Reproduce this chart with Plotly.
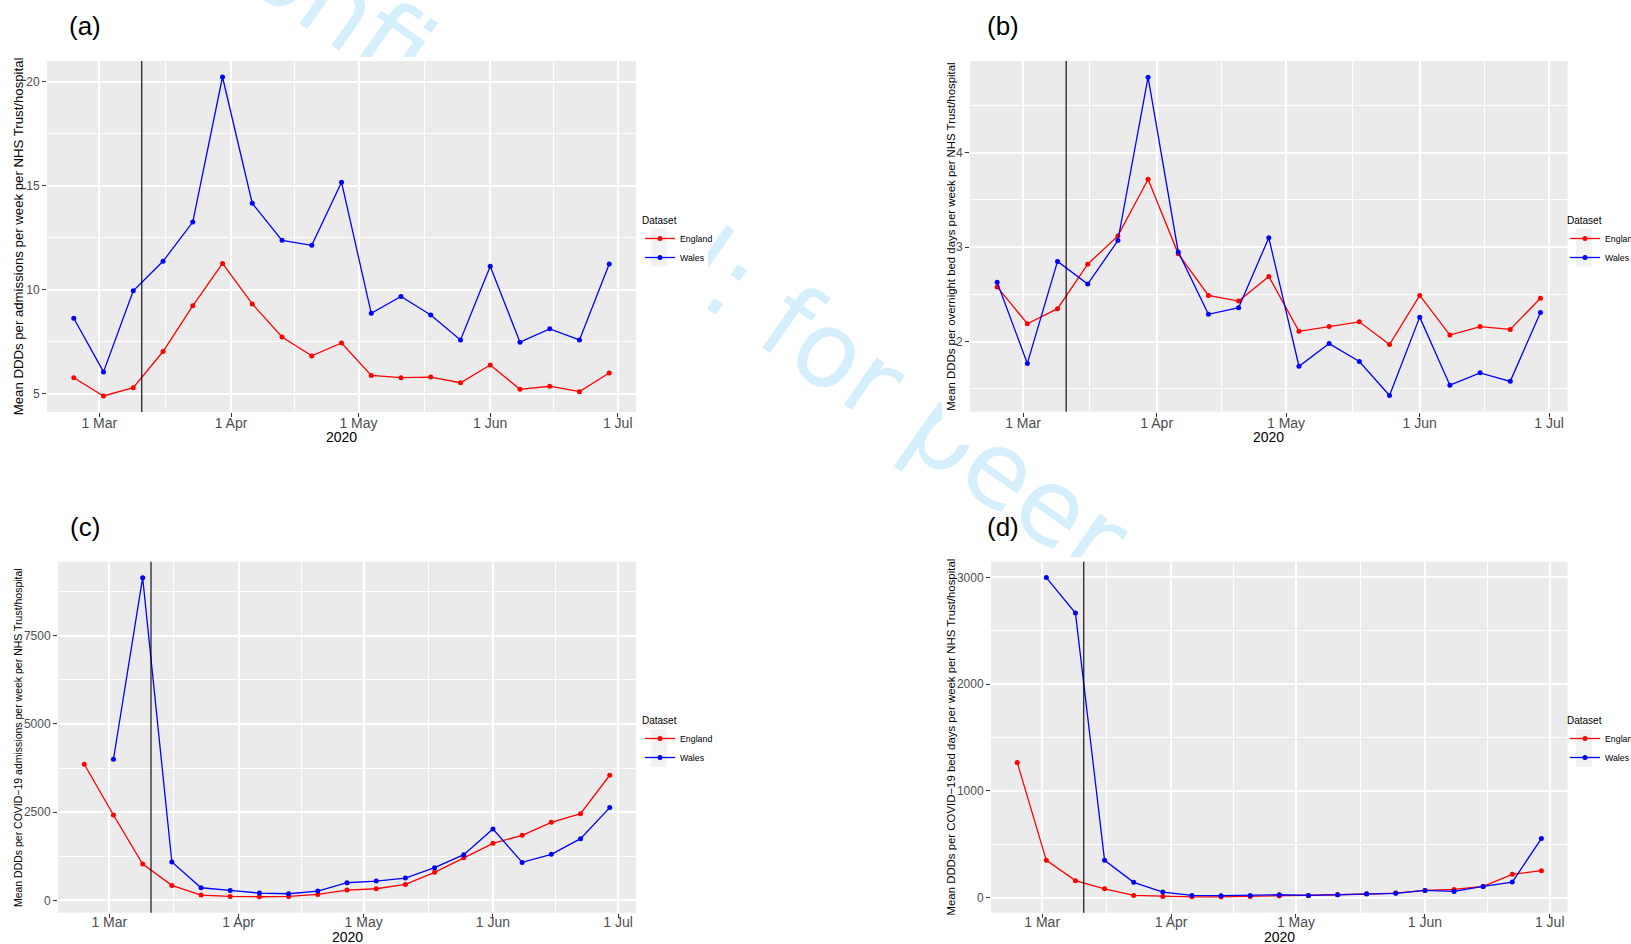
import plotly.graph_objects as go

W, H = 1631, 944

# ---------------- data ----------------
weeks = ["2020-02-24", "2020-03-02", "2020-03-09", "2020-03-16", "2020-03-23",
         "2020-03-30", "2020-04-06", "2020-04-13", "2020-04-20", "2020-04-27",
         "2020-05-04", "2020-05-11", "2020-05-18", "2020-05-25", "2020-06-01",
         "2020-06-08", "2020-06-15", "2020-06-22", "2020-06-29"]

a_england = [5.77, 4.89, 5.29, 7.03, 9.23, 11.27, 9.32, 7.73, 6.82, 7.44,
             5.88, 5.77, 5.80, 5.53, 6.38, 5.21, 5.36, 5.10, 6.00]
a_wales = [8.63, 6.05, 9.95, 11.37, 13.26, 20.24, 14.16, 12.38, 12.14, 15.18,
           8.87, 9.68, 8.79, 7.59, 11.13, 7.48, 8.12, 7.59, 11.24]

b_england = [2.58, 2.19, 2.35, 2.82, 3.12, 3.72, 2.93, 2.49, 2.43, 2.69,
             2.11, 2.16, 2.21, 1.97, 2.49, 2.07, 2.16, 2.13, 2.46]
b_wales = [2.63, 1.77, 2.85, 2.61, 3.07, 4.80, 2.95, 2.29, 2.36, 3.10,
           1.74, 1.98, 1.79, 1.43, 2.26, 1.54, 1.67, 1.58, 2.31]

c_england = [3859, 2421, 1031, 426, 151, 114, 104, 114, 170, 293,
             331, 454, 795, 1211, 1617, 1845, 2213, 2459, 3547]
c_wales = [None, 4001, 9147, 1088, 359, 284, 208, 189, 265, 501,
           549, 634, 927, 1296, 2024, 1078, 1305, 1750, 2630]

d_england = [1267, 350, 160, 84, 22, 12, 9, 9, 12, 16,
             19, 28, 34, 44, 69, 78, 106, 219, 253]
d_wales = [None, 2997, 2665, 350, 144, 53, 22, 19, 22, 28,
           22, 28, 38, 41, 69, 59, 106, 147, 554]

series_names = ["England", "Wales"]
series_colors = ["#FF0000", "#0000FF"]

marker_date = "2020-03-11"
month_ticks = ["2020-03-01", "2020-04-01", "2020-05-01", "2020-06-01", "2020-07-01"]
month_labels = ["1 Mar", "1 Apr", "1 May", "1 Jun", "1 Jul"]
month_minor = ["2020-03-16 12:00", "2020-04-16", "2020-05-16 12:00", "2020-06-16"]
x_range = ["2020-02-17 16:48", "2020-07-05 07:12"]

panel_letters = ["(a)", "(b)", "(c)", "(d)"]
y_titles = [
    "Mean DDDs per admissions per week per NHS Trust/hospital",
    "Mean DDDs per overnight bed days per week per NHS Trust/hospital",
    "Mean DDDs per COVID\u221219 admissions per week per NHS Trust/hospital",
    "Mean DDDs per COVID\u221219 bed days per week per NHS Trust/hospital",
]
y_ticks = [[5, 10, 15, 20], [2, 3, 4], [0, 2500, 5000, 7500], [0, 1000, 2000, 3000]]
y_minor = [[7.5, 12.5, 17.5], [1.5, 2.5, 3.5, 4.5], [1250, 3750, 6250, 8750], [500, 1500, 2500]]
y_ranges = [[4.12, 21.01], [1.259, 4.971], [-348, 9599], [-140, 3146]]
panel_data = [(a_england, a_wales), (b_england, b_wales),
              (c_england, c_wales), (d_england, d_wales)]

watermark_text = "Confidential: for peer review only"

# ---------------- layout geometry (pixels) ----------------
plot_boxes = [(47, 61, 636, 412), (970, 61, 1567.6, 411.7),
              (58, 561.7, 636, 912.7), (991, 561.7, 1567.6, 912.7)]
cover_boxes = [(0, 57, 708, 447), (942, 57, 1631, 445),
               (0, 553, 708, 944), (942, 557, 1631, 944)]
label_pos = [(85, 26), (1003, 26), (85, 527), (1003, 527)]
ytitle_x = [18.75, 951.3, 17.9, 951.3]
ytitle_size = [13.2, 11.4, 10.5, 11.4]
xtitle_y = [436.7, 436.7, 936.5, 936.5]
xlabel_standoff = [-6, -6, -8, -8]
legend_xy = [(640, 211), (1565, 211), (640, 711), (1565, 711)]
key_box_y = [(228.5, 266.5), (228.5, 266.5), (729, 767), (729, 767)]


def fx(p):
    return p / W


def fy(p):
    return 1 - p / H


FONT = "Liberation Sans, Arial, sans-serif"
fig = go.Figure()
layout = dict(
    width=W, height=H, autosize=False,
    margin=dict(l=0, r=0, t=0, b=0, pad=0, autoexpand=False),
    paper_bgcolor="white", plot_bgcolor="#EBEBEB",
    font=dict(family=FONT, color="black"),
    showlegend=True, hovermode=False,
)
shapes = []
annotations = []

# watermark subplot (full page, drawn first so the panels cover it)
fig.add_trace(go.Scatter(x=[None], y=[None], xaxis="x", yaxis="y", mode="markers",
                         showlegend=False, hoverinfo="skip"))
layout["xaxis"] = dict(domain=[0, 1], range=[0, 1], visible=False, fixedrange=True, anchor="y")
layout["yaxis"] = dict(domain=[0, 1], range=[0, 1], visible=False, fixedrange=True, anchor="x")
wm_cx, wm_cy = fx(922.5), fy(406)
shapes.append(dict(
    type="rect", xref="x", yref="y", layer="below",
    x0=wm_cx - 2, x1=wm_cx + 2, y0=wm_cy - 2, y1=wm_cy + 2,
    fillcolor="white", line=dict(width=0),
    label=dict(text=watermark_text, textangle=35, textposition="middle center",
               font=dict(family="DejaVu Sans, sans-serif", size=105, color="#D6EFFC")),
))

for k in range(4):
    cid = 2 + 2 * k
    pid = 3 + 2 * k
    # white cover for the panel image region
    cx0, cy0, cx1, cy1 = cover_boxes[k]
    fig.add_trace(go.Scatter(x=[None], y=[None], xaxis=f"x{cid}", yaxis=f"y{cid}",
                             mode="markers", showlegend=False, hoverinfo="skip"))
    layout[f"xaxis{cid}"] = dict(domain=[fx(cx0), fx(cx1)], range=[0, 1], visible=False,
                                 fixedrange=True, anchor=f"y{cid}")
    layout[f"yaxis{cid}"] = dict(domain=[fy(cy1), fy(cy0)], range=[0, 1], visible=False,
                                 fixedrange=True, anchor=f"x{cid}")
    shapes.append(dict(type="rect", xref=f"x{cid}", yref=f"y{cid}", layer="below",
                       x0=-0.05, x1=1.05, y0=-0.05, y1=1.05,
                       fillcolor="white", line=dict(width=0)))

    # data panel
    px0, py0, px1, py1 = plot_boxes[k]
    leg = "legend" if k == 0 else f"legend{k + 1}"
    for name, col, vals in zip(series_names, series_colors, panel_data[k]):
        fig.add_trace(go.Scatter(
            x=weeks, y=vals, name=name, mode="lines+markers",
            line=dict(color=col, width=1.3), marker=dict(color=col, size=5),
            xaxis=f"x{pid}", yaxis=f"y{pid}", legend=leg, hoverinfo="skip",
        ))
    layout[f"xaxis{pid}"] = dict(
        domain=[fx(px0), fx(px1)], anchor=f"y{pid}", type="date", range=x_range,
        tickmode="array", tickvals=month_ticks, ticktext=month_labels,
        ticks="outside", ticklen=4, tickwidth=1, tickcolor="#333333",
        ticklabelstandoff=xlabel_standoff[k],
        tickfont=dict(family=FONT, size=14, color="#4D4D4D"),
        showgrid=True, gridcolor="white", gridwidth=1.8,
        minor=dict(tickvals=month_minor, showgrid=True, gridcolor="white", gridwidth=0.9, ticks=""),
        zeroline=False, showline=False, fixedrange=True,
    )
    layout[f"yaxis{pid}"] = dict(
        domain=[fy(py1), fy(py0)], anchor=f"x{pid}", range=y_ranges[k],
        tickmode="array", tickvals=y_ticks[k], ticktext=[str(v) for v in y_ticks[k]],
        ticks="outside", ticklen=4, tickwidth=1, tickcolor="#333333",
        tickfont=dict(family=FONT, size=12, color="#4D4D4D"),
        showgrid=True, gridcolor="white", gridwidth=1.8,
        minor=dict(tickvals=y_minor[k], showgrid=True, gridcolor="white", gridwidth=0.9, ticks=""),
        zeroline=False, showline=False, fixedrange=True,
    )
    shapes.append(dict(type="line", xref=f"x{pid}", yref=f"y{pid} domain",
                       x0=marker_date, x1=marker_date, y0=0, y1=1,
                       line=dict(color="black", width=1.1)))

    # legend (with the light grey key background used by the original)
    lx, ly = legend_xy[k]
    kb0, kb1 = key_box_y[k]
    shapes.append(dict(type="rect", xref="paper", yref="paper", layer="above",
                       x0=fx(lx + 11), x1=fx(lx + 27), y0=fy(kb1), y1=fy(kb0),
                       fillcolor="#F2F2F2", line=dict(width=0)))
    layout[leg] = dict(
        x=fx(lx), y=fy(ly), xanchor="left", yanchor="top",
        bgcolor="rgba(0,0,0,0)", borderwidth=0,
        title=dict(text="Dataset", font=dict(family=FONT, size=10, color="black")),
        font=dict(family=FONT, size=8.8, color="black"),
        itemclick=False, itemdoubleclick=False,
    )

    # panel letter, axis titles
    lx2, ly2 = label_pos[k]
    annotations.append(dict(text=panel_letters[k], x=fx(lx2), y=fy(ly2), xref="paper", yref="paper",
                            xanchor="center", yanchor="middle", showarrow=False,
                            font=dict(family=FONT, size=26, color="black")))
    annotations.append(dict(text=y_titles[k], x=fx(ytitle_x[k]), y=fy((py0 + py1) / 2),
                            xref="paper", yref="paper", xanchor="center", yanchor="middle",
                            textangle=-90, showarrow=False,
                            font=dict(family=FONT, size=ytitle_size[k], color="black")))
    annotations.append(dict(text="2020", x=fx((px0 + px1) / 2), y=fy(xtitle_y[k]),
                            xref="paper", yref="paper", xanchor="center", yanchor="middle",
                            showarrow=False, font=dict(family=FONT, size=14, color="black")))

layout["shapes"] = shapes
layout["annotations"] = annotations
fig.update_layout(**layout)
fig.write_html("out.html",
               config={"displayModeBar": False, "responsive": False},
               post_script="document.body.style.margin='0px';document.body.style.overflow='hidden';")
